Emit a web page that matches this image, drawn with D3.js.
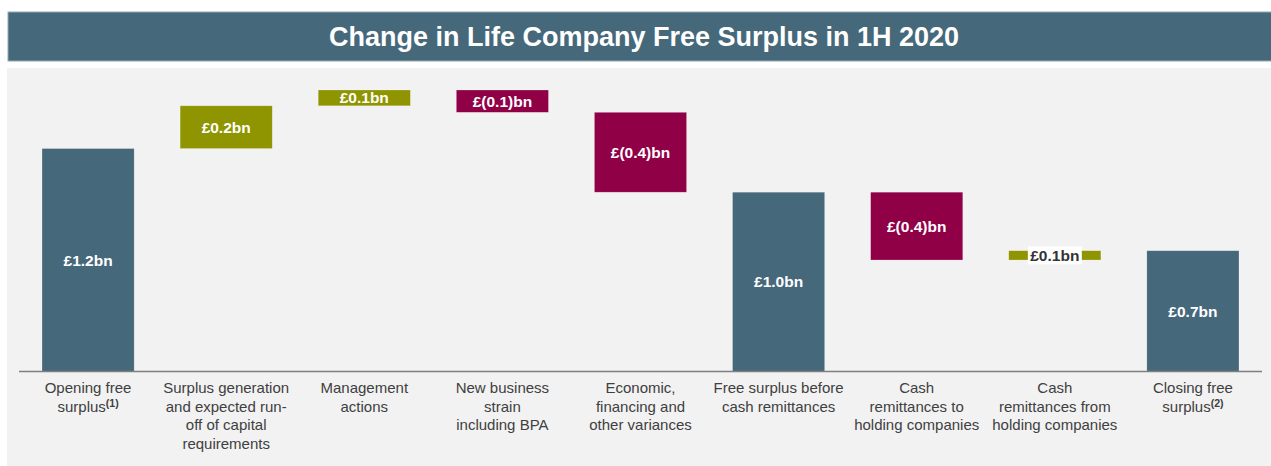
<!DOCTYPE html>
<html>
<head>
<meta charset="utf-8">
<script src="https://cdn.jsdelivr.net/npm/d3@7"></script>
<style>
  body { margin: 0; background: #fff; }
  svg { display: block; }
</style>
</head>
<body>
<div id="chart"></div>
<script>
// data (values in £bn)
const categories = [
    ["Opening free", "surplus|(1)"],
    ["Surplus generation", "and expected run-", "off of capital", "requirements"],
    ["Management", "actions"],
    ["New business", "strain", "including BPA"],
    ["Economic,", "financing and", "other variances"],
    ["Free surplus before", "cash remittances"],
    ["Cash", "remittances to", "holding companies"],
    ["Cash", "remittances from", "holding companies"],
    ["Closing free", "surplus|(2)"]
];
const kinds = ["total", "step", "step", "step", "step", "subtotal", "step", "step", "total"];
const values = [1.2, 0.23, 0.085, -0.12, -0.43, null, -0.365, 0.05, null];
const valueLabels = ["£1.2bn", "£0.2bn", "£0.1bn", "£(0.1)bn", "£(0.4)bn", "£1.0bn", "£(0.4)bn", "£0.1bn", "£0.7bn"];
const title = "Change in Life Company Free Surplus in 1H 2020";

const width = 1271;
const height = 466;
const baseY = 371.5;

const colors = { total: "#46687b", up: "#8e9500", down: "#8f0047" };

// waterfall running totals
let running = 0;
const bars = categories.map((c, i) => {
    let y0, y1, kind;
    if (kinds[i] === "total" && values[i] !== null) {
        running = values[i]; y0 = 0; y1 = running; kind = "total";
    } else if (kinds[i] === "step") {
        y0 = running; running += values[i]; y1 = running; kind = values[i] >= 0 ? "up" : "down";
    } else {
        y0 = 0; y1 = running; kind = "total";
    }
    return { i, lines: c, y0, y1, kind, label: valueLabels[i] };
});

const xScale = d3.scaleBand()
    .domain(bars.map(d => d.i))
    .range([19, 1262])
    .paddingInner(0.333)
    .paddingOuter(0.1667);

const yScale = d3.scaleLinear()
    .domain([0, 1.6])
    .range([baseY, baseY - 1.6 * 185.8]);

const svg = d3.select("#chart").append("svg")
    .attr("width", width)
    .attr("height", height)
    .style("font-family", "'Liberation Sans', Arial, sans-serif");

// title bar
svg.append("rect").attr("x", 8).attr("y", 12).attr("width", 1275).attr("height", 49)
    .attr("fill", "#46687b").attr("stroke", "#93aab6").attr("stroke-width", 1);
svg.append("text")
    .text(title)
    .attr("x", 644).attr("y", 46)
    .attr("text-anchor", "middle")
    .attr("fill", "#fff")
    .style("font-size", "27px")
    .style("font-weight", "700");

// panel
svg.append("rect").attr("x", 7).attr("y", 68).attr("width", 1264).attr("height", 398).attr("fill", "#f2f2f2");

// bars
const g = svg.selectAll("g.bar").data(bars).join("g").attr("class", "bar");

g.append("rect")
    .attr("x", d => xScale(d.i))
    .attr("width", xScale.bandwidth())
    .attr("y", d => yScale(Math.max(d.y0, d.y1)))
    .attr("height", d => Math.abs(yScale(d.y0) - yScale(d.y1)))
    .attr("fill", d => colors[d.kind])
    .attr("stroke", "#ffffff")
    .attr("stroke-opacity", 0.35)
    .attr("stroke-width", 0.6);

// value labels
g.each(function(d) {
    const sel = d3.select(this);
    const cx = xScale(d.i) + xScale.bandwidth() / 2;
    const cy = (yScale(d.y0) + yScale(d.y1)) / 2;
    const small = Math.abs(yScale(d.y0) - yScale(d.y1)) < 12;
    if (small) {
        sel.append("rect")
            .attr("x", cx - 27).attr("y", cy - 9)
            .attr("width", 54).attr("height", 18)
            .attr("fill", "#fff");
    }
    sel.append("text")
        .text(d.label)
        .attr("x", cx)
        .attr("y", cy + 5.5)
        .attr("text-anchor", "middle")
        .attr("fill", small ? "#333" : "#fff")
        .style("font-size", "15.5px")
        .style("font-weight", "700");
});

// axis line
svg.append("line")
    .attr("x1", xScale.range()[0]).attr("x2", xScale.range()[1])
    .attr("y1", baseY).attr("y2", baseY)
    .attr("stroke", "#7f7f7f").attr("stroke-width", 1.5);

// category labels
g.each(function(d) {
    const t = d3.select(this).append("text")
        .attr("text-anchor", "middle")
        .attr("fill", "#404040")
        .style("font-size", "15px");
    const cx = xScale(d.i) + xScale.bandwidth() / 2;
    d.lines.forEach((line, k) => {
        const [main, sup] = line.split("|");
        t.append("tspan").attr("x", cx).attr("y", 393 + k * 18.5).text(main);
        if (sup) {
            t.append("tspan").text(sup).attr("dy", -5).style("font-size", "10.5px").style("font-weight", "700");
        }
    });
});
</script>
</body>
</html>
